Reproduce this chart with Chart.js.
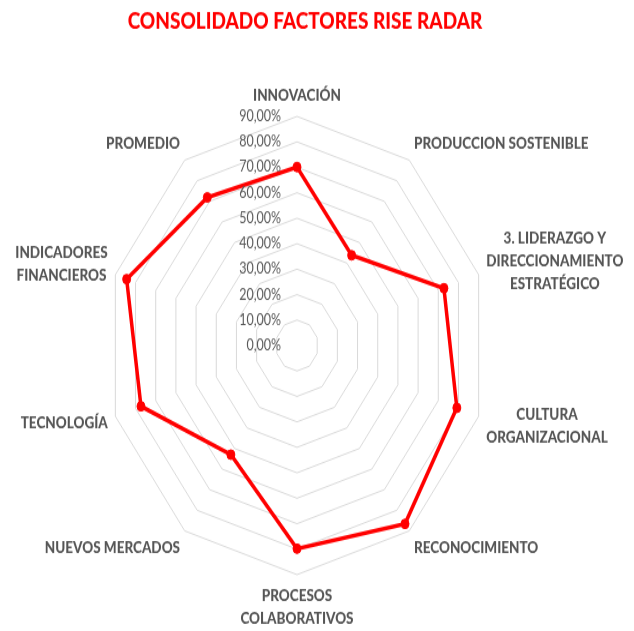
<!DOCTYPE html>
<html>
<head>
<meta charset="utf-8">
<title>Consolidado factores RISE radar</title>
<script src="https://cdn.jsdelivr.net/npm/chart.js@4.4.1/dist/chart.umd.min.js"></script>
<style>
  html, body { margin: 0; padding: 0; background: #fff; }
</style>
</head>
<body>
<!-- el original está estirado en vertical: se dibuja a 634x526 y se muestra a 634x631 -->
<canvas id="radar" width="634" height="526" style="display:block;width:634px;height:631px"></canvas>
<script>
// ─────────────────────────────────────────────
// Datos
// ─────────────────────────────────────────────

const categorias = [
  'INNOVACIÓN',
  'PRODUCCION SOSTENIBLE',
  ['3. LIDERAZGO Y', 'DIRECCIONAMIENTO', 'ESTRATÉGICO'],
  ['CULTURA', 'ORGANIZACIONAL'],
  'RECONOCIMIENTO',
  ['PROCESOS', 'COLABORATIVOS'],
  'NUEVOS MERCADOS',
  'TECNOLOGÍA',
  ['INDICADORES', 'FINANCIEROS'],
  'PROMEDIO'
];

const valores = [70.1, 43.8, 72.8, 79.2, 86.6, 79.8, 53.0, 77.3, 84.4, 71.9];

const escala = [0, 10, 20, 30, 40, 50, 60, 70, 80, 90];

const fmtPct = v => v.toFixed(2).replace('.', ',') + '%';

// ─────────────────────────────────────────────
// Etiquetas (ticks a la izquierda del eje, nombres centrados)
// ─────────────────────────────────────────────

const etiquetas = {
  id: 'etiquetas',
  afterDraw(chart) {
    const r   = chart.scales.r;
    const ctx = chart.ctx;
    ctx.save();

    ctx.font         = '12.5px Lato';
    ctx.fillStyle    = '#595959';
    ctx.textAlign    = 'right';
    ctx.textBaseline = 'middle';
    escala.forEach(v => {
      const y = r.yCenter - r.getDistanceFromCenterForValue(v);
      ctx.fillText(fmtPct(v), r.xCenter - 16, y);
    });

    ctx.font      = '900 13.5px Lato';
    ctx.fillStyle = '#555555';
    ctx.textAlign = 'center';
    const lh = 19;
    categorias.forEach((c, i) => {
      const lines = Array.isArray(c) ? c : [c];
      const ang   = r.getIndexAngle(i);
      const p     = r.getPointPosition(i, r.drawingArea + 8);
      const w     = Math.max(...lines.map(l => ctx.measureText(l).width));
      const h     = lines.length * lh;
      const s     = Math.sin(ang);
      let cx = p.x;
      if (s > 0.01) cx = p.x + w / 2;
      else if (s < -0.01) cx = p.x - w / 2;
      const cy = p.y - Math.cos(ang) * h / 2;
      lines.forEach((l, k) => ctx.fillText(l, cx, cy - h / 2 + lh * (k + 0.5)));
    });

    // título, algo a la derecha del centro como en el original
    ctx.font      = '900 19px Lato';
    ctx.fillStyle = '#ff0000';
    ctx.fillText('CONSOLIDADO FACTORES RISE RADAR', r.xCenter + 8, 18);

    ctx.restore();
  }
};

// ─────────────────────────────────────────────
// Gráfico
// ─────────────────────────────────────────────

new Chart(document.getElementById('radar'), {
  type: 'radar',
  data: {
    labels: categorias,
    datasets: [{
      label               : 'Consolidado',
      data                : valores,
      borderColor         : '#ff0000',
      backgroundColor     : 'rgba(0,0,0,0)',
      borderWidth         : 3.5,
      fill                : false,
      pointRadius         : 4,
      pointBorderWidth    : 1,
      pointBackgroundColor: '#ff0000',
      pointBorderColor    : '#ff0000'
    }]
  },
  options: {
    responsive      : false,
    animation       : false,
    devicePixelRatio: 1,
    layout: { padding: { left: 106, right: 146, top: 97, bottom: 47 } },
    plugins: {
      legend : { display: false },
      tooltip: { enabled: false },
      title  : { display: false }
    },
    scales: {
      r: {
        min: 0,
        max: 90,
        ticks      : { stepSize: 10, display: false },
        grid       : { color: '#d9d9d9', lineWidth: 1 },
        angleLines : { display: false },
        pointLabels: { display: false }
      }
    }
  },
  plugins: [etiquetas]
});
</script>
</body>
</html>
